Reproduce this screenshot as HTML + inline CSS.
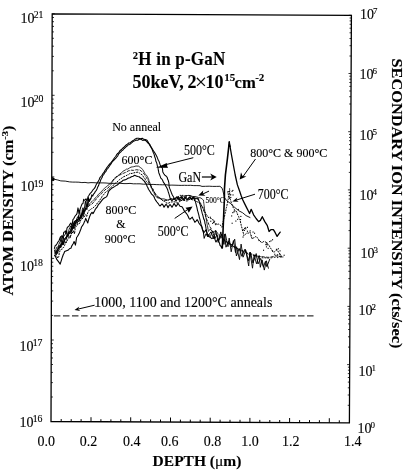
<!DOCTYPE html>
<html><head><meta charset="utf-8"><style>html,body{margin:0;padding:0;background:#fff;overflow:hidden}svg{display:block;filter:blur(0.3px)}</style></head>
<body><svg width="405" height="475" viewBox="0 0 405 475">
<style>text{stroke:#000;stroke-width:0.12px;paint-order:stroke}</style>
<rect width="405" height="475" fill="#fff"/>
<polygon points="52.2,13.8 351.4,15.3 349.4,422.8 51.0,421.5" fill="none" stroke="#000" stroke-width="1.3"/>
<line x1="52.0" y1="70.8" x2="53.8" y2="70.8" stroke="#000" stroke-width="0.8" />
<line x1="52.1" y1="56.4" x2="53.9" y2="56.4" stroke="#000" stroke-width="0.8" />
<line x1="52.1" y1="46.2" x2="53.9" y2="46.2" stroke="#000" stroke-width="0.8" />
<line x1="52.1" y1="38.3" x2="53.9" y2="38.3" stroke="#000" stroke-width="0.8" />
<line x1="52.1" y1="31.9" x2="53.9" y2="31.9" stroke="#000" stroke-width="0.8" />
<line x1="52.2" y1="26.4" x2="54.0" y2="26.4" stroke="#000" stroke-width="0.8" />
<line x1="52.2" y1="21.7" x2="54.0" y2="21.7" stroke="#000" stroke-width="0.8" />
<line x1="52.2" y1="17.5" x2="54.0" y2="17.5" stroke="#000" stroke-width="0.8" />
<line x1="52.2" y1="13.8" x2="54.8" y2="13.8" stroke="#000" stroke-width="0.8" />
<line x1="51.8" y1="152.3" x2="53.6" y2="152.3" stroke="#000" stroke-width="0.8" />
<line x1="51.8" y1="138.0" x2="53.6" y2="138.0" stroke="#000" stroke-width="0.8" />
<line x1="51.9" y1="127.8" x2="53.7" y2="127.8" stroke="#000" stroke-width="0.8" />
<line x1="51.9" y1="119.9" x2="53.7" y2="119.9" stroke="#000" stroke-width="0.8" />
<line x1="51.9" y1="113.4" x2="53.7" y2="113.4" stroke="#000" stroke-width="0.8" />
<line x1="51.9" y1="108.0" x2="53.7" y2="108.0" stroke="#000" stroke-width="0.8" />
<line x1="51.9" y1="103.2" x2="53.7" y2="103.2" stroke="#000" stroke-width="0.8" />
<line x1="51.9" y1="99.1" x2="53.7" y2="99.1" stroke="#000" stroke-width="0.8" />
<line x1="52.0" y1="95.3" x2="54.6" y2="95.3" stroke="#000" stroke-width="0.8" />
<line x1="51.6" y1="233.9" x2="53.4" y2="233.9" stroke="#000" stroke-width="0.8" />
<line x1="51.6" y1="219.5" x2="53.4" y2="219.5" stroke="#000" stroke-width="0.8" />
<line x1="51.6" y1="209.3" x2="53.4" y2="209.3" stroke="#000" stroke-width="0.8" />
<line x1="51.6" y1="201.4" x2="53.4" y2="201.4" stroke="#000" stroke-width="0.8" />
<line x1="51.7" y1="195.0" x2="53.5" y2="195.0" stroke="#000" stroke-width="0.8" />
<line x1="51.7" y1="189.5" x2="53.5" y2="189.5" stroke="#000" stroke-width="0.8" />
<line x1="51.7" y1="184.8" x2="53.5" y2="184.8" stroke="#000" stroke-width="0.8" />
<line x1="51.7" y1="180.6" x2="53.5" y2="180.6" stroke="#000" stroke-width="0.8" />
<line x1="51.7" y1="176.9" x2="54.3" y2="176.9" stroke="#000" stroke-width="0.8" />
<line x1="51.3" y1="315.4" x2="53.1" y2="315.4" stroke="#000" stroke-width="0.8" />
<line x1="51.4" y1="301.1" x2="53.2" y2="301.1" stroke="#000" stroke-width="0.8" />
<line x1="51.4" y1="290.9" x2="53.2" y2="290.9" stroke="#000" stroke-width="0.8" />
<line x1="51.4" y1="283.0" x2="53.2" y2="283.0" stroke="#000" stroke-width="0.8" />
<line x1="51.4" y1="276.5" x2="53.2" y2="276.5" stroke="#000" stroke-width="0.8" />
<line x1="51.4" y1="271.1" x2="53.2" y2="271.1" stroke="#000" stroke-width="0.8" />
<line x1="51.5" y1="266.3" x2="53.3" y2="266.3" stroke="#000" stroke-width="0.8" />
<line x1="51.5" y1="262.2" x2="53.3" y2="262.2" stroke="#000" stroke-width="0.8" />
<line x1="51.5" y1="258.4" x2="54.1" y2="258.4" stroke="#000" stroke-width="0.8" />
<line x1="51.1" y1="397.0" x2="52.9" y2="397.0" stroke="#000" stroke-width="0.8" />
<line x1="51.1" y1="382.6" x2="52.9" y2="382.6" stroke="#000" stroke-width="0.8" />
<line x1="51.1" y1="372.4" x2="52.9" y2="372.4" stroke="#000" stroke-width="0.8" />
<line x1="51.2" y1="364.5" x2="53.0" y2="364.5" stroke="#000" stroke-width="0.8" />
<line x1="51.2" y1="358.0" x2="53.0" y2="358.0" stroke="#000" stroke-width="0.8" />
<line x1="51.2" y1="352.6" x2="53.0" y2="352.6" stroke="#000" stroke-width="0.8" />
<line x1="51.2" y1="347.9" x2="53.0" y2="347.9" stroke="#000" stroke-width="0.8" />
<line x1="51.2" y1="343.7" x2="53.0" y2="343.7" stroke="#000" stroke-width="0.8" />
<line x1="51.2" y1="340.0" x2="53.8" y2="340.0" stroke="#000" stroke-width="0.8" />
<line x1="351.2" y1="56.0" x2="349.4" y2="56.0" stroke="#000" stroke-width="0.8" />
<line x1="351.3" y1="45.7" x2="349.5" y2="45.7" stroke="#000" stroke-width="0.8" />
<line x1="351.3" y1="38.5" x2="349.5" y2="38.5" stroke="#000" stroke-width="0.8" />
<line x1="351.3" y1="32.8" x2="349.5" y2="32.8" stroke="#000" stroke-width="0.8" />
<line x1="351.3" y1="28.2" x2="349.5" y2="28.2" stroke="#000" stroke-width="0.8" />
<line x1="351.4" y1="24.3" x2="349.6" y2="24.3" stroke="#000" stroke-width="0.8" />
<line x1="351.4" y1="20.9" x2="349.6" y2="20.9" stroke="#000" stroke-width="0.8" />
<line x1="351.4" y1="18.0" x2="349.6" y2="18.0" stroke="#000" stroke-width="0.8" />
<line x1="351.4" y1="15.3" x2="348.8" y2="15.3" stroke="#000" stroke-width="0.8" />
<line x1="350.9" y1="114.2" x2="349.1" y2="114.2" stroke="#000" stroke-width="0.8" />
<line x1="351.0" y1="104.0" x2="349.2" y2="104.0" stroke="#000" stroke-width="0.8" />
<line x1="351.0" y1="96.7" x2="349.2" y2="96.7" stroke="#000" stroke-width="0.8" />
<line x1="351.0" y1="91.0" x2="349.2" y2="91.0" stroke="#000" stroke-width="0.8" />
<line x1="351.1" y1="86.4" x2="349.3" y2="86.4" stroke="#000" stroke-width="0.8" />
<line x1="351.1" y1="82.5" x2="349.3" y2="82.5" stroke="#000" stroke-width="0.8" />
<line x1="351.1" y1="79.2" x2="349.3" y2="79.2" stroke="#000" stroke-width="0.8" />
<line x1="351.1" y1="76.2" x2="349.3" y2="76.2" stroke="#000" stroke-width="0.8" />
<line x1="351.1" y1="73.5" x2="348.5" y2="73.5" stroke="#000" stroke-width="0.8" />
<line x1="350.6" y1="172.4" x2="348.8" y2="172.4" stroke="#000" stroke-width="0.8" />
<line x1="350.7" y1="162.2" x2="348.9" y2="162.2" stroke="#000" stroke-width="0.8" />
<line x1="350.7" y1="154.9" x2="348.9" y2="154.9" stroke="#000" stroke-width="0.8" />
<line x1="350.7" y1="149.3" x2="348.9" y2="149.3" stroke="#000" stroke-width="0.8" />
<line x1="350.8" y1="144.6" x2="349.0" y2="144.6" stroke="#000" stroke-width="0.8" />
<line x1="350.8" y1="140.7" x2="349.0" y2="140.7" stroke="#000" stroke-width="0.8" />
<line x1="350.8" y1="137.4" x2="349.0" y2="137.4" stroke="#000" stroke-width="0.8" />
<line x1="350.8" y1="134.4" x2="349.0" y2="134.4" stroke="#000" stroke-width="0.8" />
<line x1="350.8" y1="131.7" x2="348.2" y2="131.7" stroke="#000" stroke-width="0.8" />
<line x1="350.3" y1="230.6" x2="348.5" y2="230.6" stroke="#000" stroke-width="0.8" />
<line x1="350.4" y1="220.4" x2="348.6" y2="220.4" stroke="#000" stroke-width="0.8" />
<line x1="350.4" y1="213.1" x2="348.6" y2="213.1" stroke="#000" stroke-width="0.8" />
<line x1="350.5" y1="207.5" x2="348.7" y2="207.5" stroke="#000" stroke-width="0.8" />
<line x1="350.5" y1="202.9" x2="348.7" y2="202.9" stroke="#000" stroke-width="0.8" />
<line x1="350.5" y1="199.0" x2="348.7" y2="199.0" stroke="#000" stroke-width="0.8" />
<line x1="350.5" y1="195.6" x2="348.7" y2="195.6" stroke="#000" stroke-width="0.8" />
<line x1="350.5" y1="192.6" x2="348.7" y2="192.6" stroke="#000" stroke-width="0.8" />
<line x1="350.5" y1="189.9" x2="347.9" y2="189.9" stroke="#000" stroke-width="0.8" />
<line x1="350.1" y1="288.8" x2="348.3" y2="288.8" stroke="#000" stroke-width="0.8" />
<line x1="350.1" y1="278.6" x2="348.3" y2="278.6" stroke="#000" stroke-width="0.8" />
<line x1="350.1" y1="271.3" x2="348.3" y2="271.3" stroke="#000" stroke-width="0.8" />
<line x1="350.2" y1="265.7" x2="348.4" y2="265.7" stroke="#000" stroke-width="0.8" />
<line x1="350.2" y1="261.1" x2="348.4" y2="261.1" stroke="#000" stroke-width="0.8" />
<line x1="350.2" y1="257.2" x2="348.4" y2="257.2" stroke="#000" stroke-width="0.8" />
<line x1="350.2" y1="253.8" x2="348.4" y2="253.8" stroke="#000" stroke-width="0.8" />
<line x1="350.2" y1="250.8" x2="348.4" y2="250.8" stroke="#000" stroke-width="0.8" />
<line x1="350.3" y1="248.2" x2="347.7" y2="248.2" stroke="#000" stroke-width="0.8" />
<line x1="349.8" y1="347.1" x2="348.0" y2="347.1" stroke="#000" stroke-width="0.8" />
<line x1="349.8" y1="336.8" x2="348.0" y2="336.8" stroke="#000" stroke-width="0.8" />
<line x1="349.9" y1="329.5" x2="348.1" y2="329.5" stroke="#000" stroke-width="0.8" />
<line x1="349.9" y1="323.9" x2="348.1" y2="323.9" stroke="#000" stroke-width="0.8" />
<line x1="349.9" y1="319.3" x2="348.1" y2="319.3" stroke="#000" stroke-width="0.8" />
<line x1="349.9" y1="315.4" x2="348.1" y2="315.4" stroke="#000" stroke-width="0.8" />
<line x1="349.9" y1="312.0" x2="348.1" y2="312.0" stroke="#000" stroke-width="0.8" />
<line x1="350.0" y1="309.0" x2="348.2" y2="309.0" stroke="#000" stroke-width="0.8" />
<line x1="350.0" y1="306.4" x2="347.4" y2="306.4" stroke="#000" stroke-width="0.8" />
<line x1="349.5" y1="405.3" x2="347.7" y2="405.3" stroke="#000" stroke-width="0.8" />
<line x1="349.5" y1="395.0" x2="347.7" y2="395.0" stroke="#000" stroke-width="0.8" />
<line x1="349.6" y1="387.8" x2="347.8" y2="387.8" stroke="#000" stroke-width="0.8" />
<line x1="349.6" y1="382.1" x2="347.8" y2="382.1" stroke="#000" stroke-width="0.8" />
<line x1="349.6" y1="377.5" x2="347.8" y2="377.5" stroke="#000" stroke-width="0.8" />
<line x1="349.6" y1="373.6" x2="347.8" y2="373.6" stroke="#000" stroke-width="0.8" />
<line x1="349.7" y1="370.2" x2="347.9" y2="370.2" stroke="#000" stroke-width="0.8" />
<line x1="349.7" y1="367.2" x2="347.9" y2="367.2" stroke="#000" stroke-width="0.8" />
<line x1="349.7" y1="364.6" x2="347.1" y2="364.6" stroke="#000" stroke-width="0.8" />
<line x1="61.2" y1="421.5" x2="61.2" y2="419.0" stroke="#000" stroke-width="1.0" />
<line x1="71.2" y1="421.6" x2="71.2" y2="419.1" stroke="#000" stroke-width="1.0" />
<line x1="81.1" y1="421.6" x2="81.1" y2="419.1" stroke="#000" stroke-width="1.0" />
<line x1="91.0" y1="421.7" x2="91.0" y2="417.2" stroke="#000" stroke-width="1.0" />
<line x1="100.9" y1="421.7" x2="100.9" y2="419.2" stroke="#000" stroke-width="1.0" />
<line x1="110.9" y1="421.8" x2="110.9" y2="419.3" stroke="#000" stroke-width="1.0" />
<line x1="120.8" y1="421.8" x2="120.8" y2="419.3" stroke="#000" stroke-width="1.0" />
<line x1="130.7" y1="421.8" x2="130.7" y2="417.3" stroke="#000" stroke-width="1.0" />
<line x1="140.7" y1="421.9" x2="140.7" y2="419.4" stroke="#000" stroke-width="1.0" />
<line x1="150.6" y1="421.9" x2="150.6" y2="419.4" stroke="#000" stroke-width="1.0" />
<line x1="160.5" y1="422.0" x2="160.5" y2="419.5" stroke="#000" stroke-width="1.0" />
<line x1="170.5" y1="422.0" x2="170.5" y2="417.5" stroke="#000" stroke-width="1.0" />
<line x1="180.4" y1="422.1" x2="180.4" y2="419.6" stroke="#000" stroke-width="1.0" />
<line x1="190.3" y1="422.1" x2="190.3" y2="419.6" stroke="#000" stroke-width="1.0" />
<line x1="200.2" y1="422.2" x2="200.2" y2="419.7" stroke="#000" stroke-width="1.0" />
<line x1="210.2" y1="422.2" x2="210.2" y2="417.7" stroke="#000" stroke-width="1.0" />
<line x1="220.1" y1="422.2" x2="220.1" y2="419.7" stroke="#000" stroke-width="1.0" />
<line x1="230.0" y1="422.3" x2="230.0" y2="419.8" stroke="#000" stroke-width="1.0" />
<line x1="240.0" y1="422.3" x2="240.0" y2="419.8" stroke="#000" stroke-width="1.0" />
<line x1="249.9" y1="422.4" x2="249.9" y2="417.9" stroke="#000" stroke-width="1.0" />
<line x1="259.8" y1="422.4" x2="259.8" y2="419.9" stroke="#000" stroke-width="1.0" />
<line x1="269.8" y1="422.5" x2="269.8" y2="420.0" stroke="#000" stroke-width="1.0" />
<line x1="279.7" y1="422.5" x2="279.7" y2="420.0" stroke="#000" stroke-width="1.0" />
<line x1="289.6" y1="422.5" x2="289.6" y2="418.0" stroke="#000" stroke-width="1.0" />
<line x1="299.6" y1="422.6" x2="299.6" y2="420.1" stroke="#000" stroke-width="1.0" />
<line x1="309.5" y1="422.6" x2="309.5" y2="420.1" stroke="#000" stroke-width="1.0" />
<line x1="319.4" y1="422.7" x2="319.4" y2="420.2" stroke="#000" stroke-width="1.0" />
<line x1="329.3" y1="422.7" x2="329.3" y2="418.2" stroke="#000" stroke-width="1.0" />
<line x1="339.3" y1="422.8" x2="339.3" y2="420.3" stroke="#000" stroke-width="1.0" />
<text x="20.6" y="22.7" font-size="14" font-family="Liberation Serif">10<tspan dx="-0.9" dy="-4.4" font-size="9.8">21</tspan></text>
<text x="20.6" y="106.7" font-size="14" font-family="Liberation Serif">10<tspan dx="-0.9" dy="-4.4" font-size="9.8">20</tspan></text>
<text x="20.6" y="191.1" font-size="14" font-family="Liberation Serif">10<tspan dx="-0.9" dy="-4.4" font-size="9.8">19</tspan></text>
<text x="20.1" y="270.5" font-size="14" font-family="Liberation Serif">10<tspan dx="-0.9" dy="-4.4" font-size="9.8">18</tspan></text>
<text x="19.6" y="350.7" font-size="14" font-family="Liberation Serif">10<tspan dx="-0.9" dy="-4.4" font-size="9.8">17</tspan></text>
<text x="19.6" y="426.5" font-size="14" font-family="Liberation Serif">10<tspan dx="-0.9" dy="-4.4" font-size="9.8">16</tspan></text>
<text x="360.0" y="18.9" font-size="14" font-family="Liberation Serif">10<tspan dx="-0.9" dy="-5.0" font-size="9.0">7</tspan></text>
<text x="359.5" y="79.3" font-size="14" font-family="Liberation Serif">10<tspan dx="-0.9" dy="-5.0" font-size="9.0">6</tspan></text>
<text x="359.5" y="140.3" font-size="14" font-family="Liberation Serif">10<tspan dx="-0.9" dy="-5.0" font-size="9.0">5</tspan></text>
<text x="359.5" y="199.6" font-size="14" font-family="Liberation Serif">10<tspan dx="-0.9" dy="-5.0" font-size="9.0">4</tspan></text>
<text x="360.5" y="258.0" font-size="14" font-family="Liberation Serif">10<tspan dx="-0.9" dy="-5.0" font-size="9.0">3</tspan></text>
<text x="358.5" y="314.9" font-size="14" font-family="Liberation Serif">10<tspan dx="-0.9" dy="-5.0" font-size="9.0">2</tspan></text>
<text x="358.5" y="375.6" font-size="14" font-family="Liberation Serif">10<tspan dx="-0.9" dy="-5.0" font-size="9.0">1</tspan></text>
<text x="357.5" y="432.8" font-size="14" font-family="Liberation Serif">10<tspan dx="-0.9" dy="-5.0" font-size="9.0">0</tspan></text>
<text x="37.5" y="446.2" font-size="14" font-family="Liberation Serif" >0.0</text>
<text x="79.7" y="446.2" font-size="14" font-family="Liberation Serif" >0.2</text>
<text x="122.9" y="446.2" font-size="14" font-family="Liberation Serif" >0.4</text>
<text x="161.0" y="446.2" font-size="14" font-family="Liberation Serif" >0.6</text>
<text x="203.8" y="446.2" font-size="14" font-family="Liberation Serif" >0.8</text>
<text x="241.3" y="446.2" font-size="14" font-family="Liberation Serif" >1.0</text>
<text x="282.1" y="446.2" font-size="14" font-family="Liberation Serif" >1.2</text>
<text x="343.9" y="446.2" font-size="14" font-family="Liberation Serif" >1.4</text>
<text x="152.6" y="465.9" font-size="15.5" font-family="Liberation Serif" font-weight="bold" >DEPTH (<tspan font-weight="normal">μ</tspan>m)</text>
<text transform="translate(12.6,295.5) rotate(-90)" font-size="14" font-weight="bold" font-family="Liberation Serif" textLength="170" lengthAdjust="spacingAndGlyphs">ATOM DENSITY (cm<tspan dy="-5" font-size="9">-3</tspan><tspan dy="5">)</tspan></text>
<text transform="translate(391.5,58.4) rotate(90)" font-size="15" font-weight="bold" font-family="Liberation Serif" textLength="290" lengthAdjust="spacingAndGlyphs">SECONDARY ION INTENSITY (cts/sec)</text>
<text transform="translate(132.8,65.0) scale(1,1.07)" font-size="17" font-weight="bold" font-family="Liberation Serif" textLength="92.5" lengthAdjust="spacing"><tspan font-size="10.5" dy="-5.8">2</tspan><tspan dy="5.8">H in p-GaN</tspan></text>
<text y="87.5" font-size="18" font-weight="bold" font-family="Liberation Serif"><tspan x="132.5">50keV,</tspan><tspan x="187.6">2</tspan><tspan x="194.9" dy="1" font-size="21" font-weight="normal">×</tspan><tspan x="205.6" dy="-1">10</tspan><tspan x="224.2" dy="-6.5" font-size="11">15</tspan><tspan x="234.6" dy="6.5" font-size="16.6">cm</tspan><tspan x="255.2" dy="-6.5" font-size="11">-2</tspan></text>
<text transform="translate(112.2,131.3) scale(1,1.1)" font-size="12" font-family="Liberation Serif" >No anneal</text>
<text transform="translate(121.6,164.4) scale(1,1.12)" font-size="12" font-family="Liberation Serif" >600°C</text>
<text transform="translate(183.9,154.5) scale(1,1.15)" font-size="12" font-family="Liberation Serif" >500°C</text>
<text transform="translate(178.4,181.7) scale(1,1.15)" font-size="12" font-family="Liberation Serif" >GaN</text>
<text transform="translate(250.3,157.4) scale(1,1.12)" font-size="12" font-family="Liberation Serif" >800°C &amp; 900°C</text>
<text transform="translate(257.7,198.7) scale(1,1.15)" font-size="12" font-family="Liberation Serif" >700°C</text>
<text transform="translate(105.5,213.6) scale(1,1.1)" font-size="12" font-family="Liberation Serif" >800°C</text>
<text transform="translate(116.3,228.4) scale(1,1.1)" font-size="12" font-family="Liberation Serif" >&amp;</text>
<text transform="translate(104.7,243.2) scale(1,1.1)" font-size="12" font-family="Liberation Serif" >900°C</text>
<text transform="translate(157.8,236.0) scale(1,1.15)" font-size="12" font-family="Liberation Serif" >500°C</text>
<text x="205.4" y="203.0" font-size="7.5" font-family="Liberation Serif" >500°C</text>
<text x="94.3" y="306.5" font-size="14" font-family="Liberation Serif" >1000, 1100 and 1200°C anneals</text>
<line x1="193.3" y1="157.7" x2="166" y2="164.6" stroke="#000" stroke-width="1.0" />
<path d="M157.6,167.2 L166.8,163.0 L167.4,167.4 Z" fill="#000"/>
<line x1="156.5" y1="167.3" x2="168" y2="167.3" stroke="#000" stroke-width="0.8" />
<line x1="201.9" y1="177" x2="212" y2="177" stroke="#000" stroke-width="1.2" />
<path d="M216.7,177.0 L210.2,180.4 L212.1,177.0 L210.2,173.6 Z" fill="#000"/>
<line x1="255.5" y1="159" x2="243" y2="176.5" stroke="#000" stroke-width="1.0" />
<path d="M239.7,179.5 L241.0,172.3 L242.5,175.9 L246.4,176.4 Z" fill="#000"/>
<line x1="255" y1="194.2" x2="236" y2="200.2" stroke="#000" stroke-width="1.0" />
<path d="M232.3,201.5 L237.3,197.6 L236.3,200.2 L238.7,201.8 Z" fill="#000"/>
<line x1="209" y1="191.1" x2="203" y2="193.9" stroke="#000" stroke-width="1.0" />
<path d="M198.3,195.6 L203.2,190.5 L202.8,193.7 L205.4,195.7 Z" fill="#000"/>
<line x1="174.7" y1="218.4" x2="187" y2="210" stroke="#000" stroke-width="1.0" />
<path d="M192.6,206.6 L188.8,212.7 L187.4,210.0 L185.5,207.7 Z" fill="#000"/>
<line x1="94.6" y1="305.2" x2="78" y2="309.1" stroke="#000" stroke-width="1.0" />
<path d="M74.5,310.0 L79.3,306.4 L78.0,309.2 L80.4,311.1 Z" fill="#000"/>
<line x1="53.9" y1="315.9" x2="313.8" y2="315.9" stroke="#000" stroke-width="1.0" stroke-dasharray="6.5,2.54"/>
<polyline points="52.2,177.5 54.9,179.4 57.8,180.0 60.8,180.9 65.2,181.1 69.7,181.9 72.8,182.1 75.8,182.1 78.9,182.2 81.9,182.6 85.0,182.4 88.0,182.9 91.0,182.6 94.0,182.7 97.0,182.9 100.0,182.9 103.0,182.9 106.0,183.0 109.0,183.3 112.0,183.3 115.0,183.4 118.0,183.1 121.0,183.4 124.0,183.6 127.0,183.6 130.0,183.4 133.3,183.8 136.7,183.8 140.0,183.8 143.3,184.2 146.7,184.1 150.0,184.5 153.1,184.4 156.2,184.6 159.4,184.7 162.5,184.8 165.6,184.7 168.8,185.2 171.9,185.1 175.0,185.2 178.1,185.3 181.2,185.4 184.4,185.3 187.5,185.4 190.6,185.3 193.8,185.6 196.9,185.6 200.0,185.7 202.0,186.4 205.6,186.3 209.2,186.2 212.7,186.4 216.3,186.4 219.9,186.3 221.9,187.8 222.9,190.8 223.7,194.1 224.4,197.6 226.9,200.8 230.8,203.7 234.8,207.5 238.7,210.7 242.7,212.8 246.0,215.6 250.0,217.5" fill="none" stroke="#000" stroke-width="0.9" stroke-linejoin="round" stroke-linecap="round" />
<ellipse cx="53.3" cy="179.2" rx="1.3" ry="1.8" fill="#000"/>
<polyline points="54.4,248.4 55.3,245.3 56.1,245.2 57.0,243.7 57.9,241.9 58.7,241.6 59.6,239.0 60.4,237.0 61.2,236.5 62.0,235.6 62.9,238.3 63.7,232.2 64.6,232.0 65.4,230.9 66.2,233.9 67.0,228.1 67.9,226.8 68.8,226.4 69.7,224.6 70.8,223.0 72.0,225.9 72.9,219.6 73.8,218.6 74.7,216.8 75.5,215.4 76.2,214.9 77.0,213.6 78.0,207.9 79.0,213.3 80.0,209.5 81.0,206.6 82.0,204.0 83.0,203.5 83.7,199.2 84.3,200.2 85.0,200.3 86.0,198.7 87.0,201.7 88.0,196.7 89.0,195.3 90.2,193.4 91.5,192.2 92.5,190.5 93.4,189.4 94.4,188.4 95.2,187.1 95.9,185.2 96.7,183.8 97.4,182.7 98.2,181.4 99.1,179.8 99.9,177.7 100.9,176.5 101.8,175.5 102.8,173.7 103.8,172.7 104.7,170.9 105.5,169.7 106.4,168.4 107.3,167.0 108.3,165.7 109.2,164.6 110.2,163.4 111.2,162.3 112.4,160.8 113.5,159.2 114.7,157.5 115.7,156.5 116.7,154.6 117.7,153.4 118.7,152.8 119.6,151.2 120.5,150.2 121.5,149.5 122.7,148.1 123.9,147.3 125.0,146.1 126.2,145.0 127.4,144.1 128.7,143.0 129.9,142.9 131.2,141.9 132.4,141.0 133.7,140.1 134.9,139.2 136.8,138.3 138.6,138.3 140.4,138.7 142.3,138.2 143.7,139.3 145.2,139.5 146.6,139.9 147.4,140.9 148.3,142.3 149.1,143.9 150.0,145.8 150.9,147.1 151.9,148.9 152.8,151.2 153.4,152.7 154.0,153.9 154.6,156.3 155.0,157.5 155.5,158.9 155.9,161.3 156.4,162.1 156.9,163.7 157.3,165.6 157.8,167.0 158.1,168.5 158.3,170.2 158.6,171.4 158.8,172.7 159.5,174.5 160.1,176.1 160.8,178.1 161.6,178.8 162.5,180.0 163.3,182.1 164.1,183.1 164.9,184.3 165.7,186.1 166.4,187.0 167.0,188.2 167.7,189.8 168.2,191.7 168.7,193.1 169.2,194.8 169.7,196.7 170.2,198.6 172.0,200.8 173.0,199.5 174.0,198.4 175.0,199.6 176.0,201.3 177.0,199.5 178.0,197.2 179.0,199.1 180.0,200.8 181.0,198.9 182.0,196.8 183.0,198.5 184.0,200.4 185.0,198.1 186.0,197.3 187.0,198.5 188.0,199.7 189.0,198.0 190.0,196.6 191.0,198.2 192.0,199.2 193.0,197.9 194.5,199.3 195.0,200.3 195.5,202.2 196.0,203.8 196.4,205.6 196.8,206.9 197.1,208.4 197.5,210.3 197.9,211.6 198.2,213.0 198.6,214.1 199.0,215.8 199.4,217.8 199.8,218.9 200.1,220.1 200.5,221.9 200.9,223.7 201.2,224.9 201.6,225.9 202.0,227.3 202.3,229.3 202.7,230.5 203.1,231.5 203.4,232.6 203.7,234.4 203.9,236.1 204.2,238.0" fill="none" stroke="#000" stroke-width="1.05" stroke-linejoin="round" stroke-linecap="round" />
<polyline points="55.8,252.5 56.7,251.9 57.6,249.4 58.5,248.5 59.6,247.9 60.8,244.8 61.7,244.2 62.6,242.0 63.5,244.4 64.3,241.1 65.1,239.0 65.9,238.9 66.8,236.1 67.6,235.5 68.5,234.5 69.3,233.5 70.1,232.5 70.9,232.0 71.8,230.4 72.6,228.5 73.5,227.7 74.3,224.8 75.2,223.5 76.0,222.3 76.8,219.3 77.7,220.4 78.5,216.0 79.3,219.8 80.2,217.0 81.0,218.3 81.8,213.9 82.7,212.0 83.5,211.0 84.4,211.0 85.2,208.4 86.1,208.5 86.9,209.5 87.7,204.2 88.5,197.6 89.3,201.4 90.2,199.7 91.0,198.7 91.8,194.8 92.7,196.1 93.5,194.2 94.5,193.2 95.4,191.3 96.4,190.3 97.1,188.8 97.8,186.9 98.5,185.8 99.1,183.8 99.7,182.6 100.3,181.4 100.9,179.3 101.5,178.6 102.2,177.3 102.8,175.4 103.6,174.8 104.4,173.2 105.2,172.1 106.0,171.4 106.8,169.4 107.6,168.9 108.4,167.3 109.2,166.6 110.0,165.2 111.0,163.9 112.0,162.3 113.0,161.0 114.0,160.1 114.9,159.1 115.9,158.1 116.8,157.0 117.8,155.8 118.7,153.8 119.7,152.8 120.6,152.1 121.7,150.9 122.8,150.1 123.8,148.8 124.9,148.0 126.0,146.9 127.2,146.0 128.5,144.7 129.8,144.4 131.0,143.3 132.2,142.4 133.5,141.2 134.8,140.7 136.0,140.1 137.7,140.2 139.3,139.3 141.0,139.2 142.7,140.4 144.3,140.1 146.0,140.8 147.0,141.9 148.0,143.1 149.0,143.7 150.0,144.7 150.8,146.6 151.5,147.5 152.5,149.2 153.6,151.0 154.6,152.5 155.4,153.8 156.3,155.5 157.1,157.1 157.7,158.6 158.3,160.2 159.0,161.3 159.6,163.1 160.2,165.0 161.2,166.7 162.3,167.8 162.6,169.6 162.8,172.0 163.8,173.7 164.8,175.1 166.0,176.0 167.2,177.4 167.7,179.4 168.2,180.1 168.7,182.1 168.9,183.0 169.0,184.7 169.2,186.9 169.7,188.4 170.2,189.6 170.7,190.9 171.4,192.8 172.2,194.8 173.1,196.2 174.1,198.1 175.0,199.3 176.0,198.0 177.0,197.2 178.0,198.4 179.0,199.9 180.0,197.9 181.0,196.9 182.0,198.2 183.0,199.7 184.0,198.4 185.0,197.0 186.0,198.9 187.0,199.6 188.0,199.1 189.0,197.4 190.0,198.2 191.0,199.2 192.0,198.1 193.0,197.2 194.0,197.8 195.0,198.9 197.0,198.1 198.4,198.7 198.8,200.4 199.2,201.5 199.6,203.0 200.0,204.2 200.4,205.9 200.8,207.4 201.1,209.1 201.5,210.3 201.9,212.0 202.2,213.4 202.6,214.5 203.0,215.8 203.4,217.6 203.8,219.1 204.3,219.9 204.7,221.3 205.0,223.6 205.4,224.6 205.7,226.3 206.0,228.4 206.3,229.6 206.6,231.5 206.9,233.2 207.2,234.1 207.5,236.0" fill="none" stroke="#000" stroke-width="1.05" stroke-linejoin="round" stroke-linecap="round" />
<polyline points="56.0,254.9 56.8,250.3 57.7,253.5 58.5,248.0 59.3,248.2 60.2,245.6 61.0,245.5 61.8,242.9 62.7,245.1 63.5,241.9 64.3,239.0 65.2,238.4 66.0,237.3 66.8,235.7 67.7,234.2 68.5,233.8 69.3,231.8 70.2,232.1 71.0,229.4 71.8,231.2 72.7,227.0 73.5,225.7 74.3,221.1 75.2,224.2 76.0,222.1 77.0,221.0 78.0,220.5 79.0,221.7 80.0,217.4 81.0,215.7 81.7,214.9 82.4,212.2 83.1,209.4 83.9,214.0 84.6,210.5 85.3,211.0 86.0,206.9 87.3,204.9 88.7,205.2 90.0,203.3 91.0,202.3 92.0,201.6 93.0,200.6 94.1,199.5 95.1,198.0 96.2,197.3 97.2,196.2 98.3,194.4 99.4,193.9 100.4,192.4 101.5,191.7 102.5,190.2 103.6,189.3 104.6,188.2 105.7,187.1 106.8,186.6 107.8,185.3 108.9,184.9 110.0,183.6 111.0,182.5 112.0,181.8 113.0,180.2 114.0,179.3 115.2,178.6 116.4,176.9 117.5,176.4 118.7,175.0 119.9,173.8 121.3,173.2 122.6,171.5 124.0,170.7 125.3,170.0 126.5,169.1 127.8,169.1 129.4,168.0 131.0,167.1 132.3,166.9 133.7,166.7 136.0,166.0 138.6,166.2 140.6,167.7 141.6,168.3 142.5,169.4 143.6,171.0 144.6,173.1 145.6,174.5 146.5,175.2 147.5,176.9 148.5,178.8 148.9,180.3 149.3,181.9 149.8,182.6 150.2,183.9 150.6,185.9 151.0,187.1 151.6,188.3 152.2,189.5 152.8,191.3 153.8,192.4 154.7,194.7 155.9,196.3 157.2,197.8 158.6,197.9 160.0,198.5 162.0,198.9 164.0,198.9 166.0,199.6 168.0,200.1 169.5,199.4 171.0,198.3 172.5,199.1 174.0,199.6 175.0,198.3 176.0,197.2 177.0,196.6 178.5,197.5 180.0,197.9 181.5,196.4 183.0,195.9 184.5,196.4 186.0,196.9 187.5,195.5 189.0,195.3 190.5,195.8 192.0,196.3 193.5,196.6 195.0,196.5 196.8,196.9 198.5,197.5 201.0,198.0 202.2,199.1 203.4,200.0 203.6,201.7 203.8,203.4 204.0,204.6 204.1,205.9 204.3,207.0 204.5,208.8 204.7,210.4 204.9,212.0 205.2,213.4 205.4,214.7 205.6,216.0 205.9,217.7 206.1,218.4 206.4,220.1 206.6,221.7 206.9,223.1 207.1,224.3 207.4,225.7 207.7,227.0 208.0,229.2 208.2,230.4 208.5,231.4 209.2,230.3 210.0,229.2 211.0,229.9 212.0,231.3 213.0,231.9 214.5,231.3 216.0,230.9 217.0,232.6 218.0,233.5 219.0,234.7 220.0,235.6 221.0,236.8 222.0,237.8 223.0,238.6 224.0,240.0" fill="none" stroke="#000" stroke-width="0.8" stroke-linejoin="round" stroke-linecap="round" />
<polyline points="224.0,239.4 225.3,241.2 226.7,241.6 228.0,243.4 230.0,243.7 232.0,244.8 233.3,245.4 234.7,247.6 236.0,247.6 238.0,249.2 240.0,250.1 241.7,250.1 243.3,250.7 245.0,251.3 246.7,253.4 248.3,254.1 250.0,254.2 251.7,255.0 253.3,255.5 255.0,255.5 256.7,256.9 258.3,256.2 260.0,256.5 261.7,257.3 263.3,258.2 265.0,257.6 266.7,258.4 268.3,258.0 270.0,258.0 271.5,257.8 273.0,257.5 274.5,257.4 276.0,257.0 277.8,257.6 279.5,256.3 281.2,257.3 283.0,257.0" fill="none" stroke="#000" stroke-width="1.0" stroke-linejoin="round" stroke-linecap="round" stroke-dasharray="1.0,2.2"/>
<polyline points="56.0,254.7 56.8,254.1 57.7,251.1 58.5,251.0 59.3,249.4 60.2,245.6 61.0,247.7 61.8,244.9 62.7,243.8 63.5,243.8 64.3,241.3 65.2,241.5 66.0,243.0 66.8,234.9 67.7,237.2 68.5,234.9 69.3,238.3 70.2,237.9 71.0,232.6 71.8,226.5 72.7,228.7 73.5,228.2 74.3,226.5 75.2,226.3 76.0,224.4 77.0,223.2 78.0,221.5 79.0,221.0 80.0,219.6 81.0,218.0 81.8,216.9 82.6,215.8 83.3,210.7 84.1,212.1 84.9,210.6 85.7,209.3 86.8,204.6 87.9,207.3 89.0,205.6 90.3,204.9 91.7,204.3 93.0,202.9 94.1,201.3 95.1,200.6 96.2,199.0 97.2,198.1 98.3,196.7 99.4,195.4 100.4,194.3 101.5,193.7 102.5,192.2 103.6,191.4 105.0,189.8 106.4,189.0 107.8,188.2 108.9,187.0 110.0,185.5 111.2,184.5 112.3,182.9 112.7,181.6 113.0,180.0 114.5,178.3 116.0,176.7 117.3,176.6 118.6,175.6 119.9,174.9 121.6,174.2 123.3,173.4 125.0,172.6 126.6,172.0 128.2,170.9 129.8,170.6 131.5,170.2 133.3,170.4 135.0,170.0 136.5,169.7 138.1,170.0 139.6,169.9 141.8,171.5 142.7,172.7 143.6,173.5 144.6,174.7 145.5,176.3 146.5,177.7 147.5,179.5 148.3,181.0 149.2,182.2 150.0,183.5 150.7,185.0 151.3,186.2 152.0,187.1 152.8,188.9 153.5,190.9 154.5,192.3 155.5,194.4 156.2,194.9 157.0,196.6 158.4,197.7 159.8,198.5 161.1,199.0 162.5,200.4 163.8,201.0 165.8,200.4 167.7,200.5 169.7,199.5 171.7,199.5 173.1,198.9 174.6,198.7 176.0,198.9 177.3,198.1 178.7,196.2 180.0,195.2 181.5,195.7 183.0,195.2 184.5,195.8 186.0,195.5 188.0,195.5 190.0,195.6 191.3,196.2 192.7,196.5 194.0,196.8 195.3,197.8 196.7,198.9 198.0,199.1 199.0,201.0 200.0,202.8 201.0,203.6 201.6,205.3 202.2,207.0 202.8,208.2 203.4,209.5 204.0,211.3 204.5,212.3 205.0,213.6 205.5,215.7 206.0,216.8 206.5,218.9 207.0,220.0 207.6,221.4 208.2,222.5 208.8,224.5 209.4,225.4 210.0,227.3 210.8,227.8 211.5,229.9 212.2,230.9 213.0,232.3 214.3,233.1 215.7,234.2 217.0,234.8 218.2,235.7 219.5,236.9 220.8,238.1 222.0,238.6 223.2,239.4 224.4,240.7 225.6,241.7 226.8,242.1 228.0,243.1 229.2,244.2 230.4,244.2 231.6,245.1 232.8,246.2 234.0,247.0 235.5,247.5 237.0,248.3 238.5,249.3 240.0,249.8 241.5,250.8 243.0,251.4 244.5,251.5 246.0,252.1 247.5,253.1 249.0,253.8 250.5,253.8 252.0,254.1 253.5,254.5 255.0,255.7 256.5,255.4 258.0,256.4 259.5,256.5 261.0,256.6 262.5,256.5 264.0,257.1 265.5,256.9 267.0,257.3 268.5,257.3 270.0,257.3 271.5,256.8 273.0,256.7 274.5,255.9 276.0,255.7 277.4,256.6 278.8,256.6 280.2,256.6 281.6,256.9 283.0,257.0" fill="none" stroke="#000" stroke-width="0.9" stroke-linejoin="round" stroke-linecap="round" stroke-dasharray="2.6,1.9"/>
<polyline points="57.0,256.6 57.8,258.2 58.7,256.7 59.5,252.1 60.3,250.4 61.2,249.3 62.0,249.2 62.8,247.9 63.7,247.4 64.5,245.6 65.3,243.5 66.2,242.4 67.0,241.0 67.8,239.2 68.7,237.7 69.5,236.6 70.3,236.4 71.2,234.9 72.0,231.5 72.8,233.1 73.7,230.8 74.5,233.9 75.3,227.7 76.2,226.4 77.0,225.9 78.0,223.9 79.0,224.0 80.0,222.5 81.0,219.2 82.0,218.9 82.9,218.3 83.9,216.9 84.8,216.2 85.8,214.6 86.7,216.5 87.8,212.6 88.9,210.4 90.0,210.1 91.4,208.7 92.7,208.2 94.1,206.9 95.2,205.8 96.2,205.1 97.3,203.0 98.3,202.4 99.4,200.8 100.2,199.2 101.1,198.8 101.9,196.7 102.8,195.2 103.6,194.8 104.6,193.4 105.7,191.9 106.7,191.4 107.8,190.8 108.8,189.4 110.2,188.4 111.6,186.7 113.0,185.7 114.2,184.0 115.5,183.2 116.8,182.2 118.0,181.1 119.3,179.8 120.7,178.8 122.0,178.0 123.3,176.9 124.7,176.3 126.0,175.8 127.3,175.0 128.7,174.5 130.0,173.3 132.0,173.5 134.0,172.8 136.0,172.4 138.0,172.1 139.5,173.1 141.0,174.3 142.0,174.6 143.0,176.6 144.0,177.2 144.8,178.5 145.5,179.9 146.2,181.3 147.0,182.3 149.0,183.2 149.8,185.0 150.5,185.2 151.2,187.0 152.0,188.9 152.8,189.2 153.5,191.0 154.2,191.8 155.0,193.6 156.0,194.4 157.0,195.4 158.0,196.6 159.3,197.4 160.7,198.5 162.0,200.0 163.3,200.9 164.7,201.3 166.0,202.8 168.0,203.3 170.0,202.5 171.3,202.0 172.7,201.9 174.0,201.7 175.3,202.2 176.7,202.9 178.0,202.9 179.3,201.7 180.7,201.4 182.0,200.0 184.0,200.2 186.0,201.0 187.3,200.9 188.7,200.1 190.0,199.0 192.0,199.7 194.0,200.2 195.3,201.0 196.7,201.6 198.0,202.2 199.0,202.8 200.0,203.8 201.0,205.0 202.0,206.2 202.8,207.2 203.5,209.1 204.2,210.7 205.0,211.9 205.8,213.8 206.5,214.6 207.2,215.7 208.0,217.2 209.6,217.9 211.1,218.4 212.7,219.3 213.4,220.9 214.1,222.5 214.9,223.7 215.6,224.8 217.1,224.4 218.6,224.1 219.7,224.6 220.9,225.6 222.0,227.2 222.3,226.0 222.6,224.1 222.9,222.5 223.3,221.1 223.6,220.4 223.9,218.3 224.2,216.8 224.5,216.5 224.8,215.0 225.1,213.4 225.5,211.5 225.8,210.9 226.1,208.4 226.4,207.7 226.7,206.6 227.0,205.1 227.2,204.0 227.5,202.4 227.8,200.3 228.1,199.8 228.4,197.5 228.7,196.1 229.0,195.0 229.2,193.7 229.5,191.8 229.8,190.4 228.8,191.4 227.8,192.5 228.3,194.5 228.8,195.7 229.3,197.1 229.8,197.7 230.3,199.2 230.8,200.9 231.3,202.9 231.8,204.1 232.3,205.5 232.8,206.9 233.6,208.2 234.4,209.5 235.1,210.6 235.9,210.9 236.7,212.2 237.4,213.9 238.0,215.6 238.7,216.6 239.3,218.9 240.0,219.8 240.3,221.1 240.7,223.2 241.0,224.1 241.3,226.0 241.7,226.9 242.0,228.3 242.4,230.0 242.7,231.3 243.0,231.9 243.4,233.4 243.7,235.6 245.2,234.5 246.8,233.0 248.3,233.2 249.9,231.9 250.4,233.6 250.9,235.2 251.3,235.6 251.8,237.9 252.3,239.2 253.5,237.7 254.8,237.5 256.0,236.2 257.0,237.3 258.0,238.7 259.0,240.2 260.0,240.6 261.0,242.3 262.3,242.5 263.7,241.5 265.0,241.6 266.1,242.5 267.3,243.5 268.4,245.1 269.2,245.6 270.0,247.2 270.9,248.8 271.7,249.3 272.5,251.4 273.3,252.0 274.5,251.8 275.8,251.0 277.0,249.7 277.8,250.8 278.7,252.6 279.5,253.2 280.3,254.8 281.2,255.7 282.0,257.2" fill="none" stroke="#000" stroke-width="1.0" stroke-linejoin="round" stroke-linecap="round" stroke-dasharray="1.1,1.7"/>
<polyline points="54.5,255.3 55.3,256.5 56.1,257.7 56.9,259.7 57.7,260.7 59.0,262.4 60.2,264.1 60.7,262.4 61.2,260.8 61.6,259.5 62.1,257.9 62.7,256.2 63.3,254.5 64.0,253.2 64.6,251.6 67.2,250.5 68.4,250.0 69.7,248.5 70.9,248.3 71.7,246.1 72.5,244.8 73.3,243.5 74.1,241.5 74.8,243.2 75.4,245.1 75.6,244.0 75.9,242.6 76.1,240.6 76.4,239.3 76.6,237.5 77.4,236.5 78.3,235.0 79.1,233.6 79.7,232.1 80.3,230.5 80.9,229.1 81.5,227.0 82.5,225.7 83.6,223.8 84.3,222.1 85.0,220.7 85.7,218.4 86.4,219.9 87.1,221.5 87.8,223.0 88.2,221.1 88.6,219.6 89.1,218.3 89.5,217.0 89.9,215.9 91.0,213.6 92.0,212.3 93.0,213.6 93.7,212.4 94.5,210.9 95.2,209.5 96.2,208.2 97.3,206.8 98.3,204.7 99.4,203.6 100.4,202.3 101.5,200.8 103.6,198.4 105.2,197.6 106.7,196.6 107.4,195.0 108.1,193.0 108.8,191.1 110.2,189.7 111.5,188.4 113.0,187.5 114.5,186.6 116.0,185.6 117.3,185.0 118.6,183.9 119.9,182.4 121.5,181.8 123.2,180.2 124.8,179.9 126.5,179.3 128.1,178.1 129.8,177.7 131.4,176.8 133.1,176.3 134.7,175.3 136.2,175.9 137.7,176.5 139.1,176.8 140.6,178.0 141.8,178.5 142.9,179.9 144.1,180.9 144.9,182.2 145.7,183.2 146.5,184.6 147.2,186.5 147.8,187.5 148.5,189.3 149.5,190.7 150.5,192.3 151.6,194.1 152.8,195.1 153.9,196.5 154.9,198.9 155.9,200.7 156.9,202.0 158.0,203.3 159.0,204.8 160.0,206.0 161.0,205.0 162.0,203.8 163.0,205.1 164.0,207.3 165.0,205.6 166.0,204.3 167.0,205.4 168.0,207.8 169.0,205.7 170.0,204.5 171.0,205.7 172.0,207.3 173.0,205.4 174.0,203.4 175.0,204.9 176.0,206.5 177.0,205.2 178.0,203.2 179.0,204.7 180.0,206.2 182.0,206.8 182.8,208.0 183.5,209.3 184.3,210.9 185.3,212.4 186.3,213.2 187.3,214.8 188.1,216.3 189.0,218.3 189.8,219.2 191.1,218.2 192.3,217.2 193.1,219.0 194.0,220.4 194.8,222.3 196.0,221.1 197.2,219.7 198.0,221.1 198.9,223.0 199.7,224.2 200.8,225.5 201.8,226.9 202.3,228.5 202.8,229.9 203.3,230.8 203.8,232.7 204.9,231.4 206.0,229.9 206.5,231.4 207.0,232.9 207.5,234.6 208.0,236.2 209.3,236.7 210.6,237.6 211.9,238.7 212.9,237.8 214.0,236.4 214.5,237.6 215.0,239.4 215.5,240.9 216.0,242.0 217.0,240.3 218.0,238.9 218.5,240.7 219.0,242.1 219.5,243.2 220.0,245.3 220.9,246.2 221.8,248.1 222.2,246.5 222.6,244.9 223.0,243.0" fill="none" stroke="#000" stroke-width="1.1" stroke-linejoin="round" stroke-linecap="round" />
<polyline points="54.5,250.0 55.2,254.3 56.0,249.1 56.7,247.3 57.4,246.8 58.1,247.7 58.9,244.4 59.6,242.4 60.3,241.7 61.0,236.9 61.7,239.9 62.5,242.7 63.2,237.9 63.9,235.8 64.6,235.5 65.3,234.0 66.1,232.1 66.8,231.2 67.5,236.0 68.2,234.0 69.0,229.7 69.7,227.6 70.4,227.0 71.1,225.7 71.8,229.1 72.6,228.2 73.3,222.6 74.0,226.2 74.7,221.0 75.4,220.3 76.1,221.4 76.8,218.6 77.6,216.9 78.3,216.5 79.0,214.4 79.7,210.3 80.3,217.0 81.0,214.6 81.7,215.2 82.3,209.6 83.0,207.7 83.8,210.7 84.6,207.0 85.4,201.1 86.2,207.2 87.0,202.2 87.8,205.5 88.6,201.6 89.4,200.0 90.2,198.7 91.0,198.0" fill="none" stroke="#000" stroke-width="0.9" stroke-linejoin="round" stroke-linecap="round" />
<polyline points="55.5,256.6 56.2,253.8 56.9,252.8 57.6,248.4 58.4,248.0 59.1,246.2 59.8,245.3 60.5,247.8 61.2,239.8 61.9,243.1 62.6,244.4 63.4,237.1 64.1,239.5 64.8,238.4 65.5,238.0 66.2,237.0 66.9,236.6 67.6,235.1 68.4,232.4 69.1,233.8 69.8,231.0 70.5,230.5 71.2,225.8 71.9,228.8 72.6,224.8 73.4,226.1 74.1,228.8 74.8,226.6 75.5,220.6 76.3,222.2 77.2,223.8 78.0,220.3 78.8,219.1 79.7,218.5 80.5,216.2 81.2,216.0 82.0,217.5 82.8,210.7 83.5,216.5 84.2,212.7 85.0,211.0" fill="none" stroke="#000" stroke-width="0.8" stroke-linejoin="round" stroke-linecap="round" />
<polyline points="204.2,238.0 206.0,233.8 207.7,236.6 210.9,231.9 213.7,238.8 215.7,230.4 218.2,242.4 220.8,231.9 223.0,242.0 224.5,234.2 226.0,247.2 228.6,240.9 231.6,246.8 234.7,239.2 236.4,256.0 239.2,248.4 241.9,256.3 245.1,249.0 248.5,260.8 250.4,252.4 253.0,263.0 256.2,253.6 258.0,264.0 260.7,258.4 263.4,267.1 265.4,261.4 266.9,266.7 269.7,259.3" fill="none" stroke="#000" stroke-width="0.95" stroke-linejoin="round" stroke-linecap="round" />
<polyline points="207.5,236.0 208.0,234.4 210.4,236.7 212.3,231.2 214.9,238.5 216.9,234.7 218.8,240.6 221.5,234.0 224.0,244.4 225.3,233.8 228.0,246.7 229.2,238.1 231.2,251.8 233.4,240.6 235.5,252.6 236.6,246.7 239.5,259.6 241.1,244.1 243.1,257.2 245.8,250.3 248.7,266.0 249.9,252.1 252.5,268.2 254.1,254.8 256.5,263.8 259.2,255.6 260.3,267.3 262.1,259.9 264.3,270.1 266.4,260.8 268.4,268.2" fill="none" stroke="#000" stroke-width="0.9" stroke-linejoin="round" stroke-linecap="round" />
<rect x="229.6" y="194.3" width="1.1" height="1.1" fill="#000"/>
<rect x="231.5" y="190.8" width="1.1" height="1.1" fill="#000"/>
<rect x="230.2" y="196.9" width="1.1" height="1.1" fill="#000"/>
<rect x="232.3" y="189.9" width="1.1" height="1.1" fill="#000"/>
<rect x="230.2" y="194.2" width="1.1" height="1.1" fill="#000"/>
<rect x="229.0" y="197.7" width="1.1" height="1.1" fill="#000"/>
<rect x="229.2" y="192.5" width="1.1" height="1.1" fill="#000"/>
<rect x="232.5" y="194.4" width="1.1" height="1.1" fill="#000"/>
<rect x="227.4" y="191.1" width="1.1" height="1.1" fill="#000"/>
<rect x="229.0" y="188.5" width="1.1" height="1.1" fill="#000"/>
<rect x="237.1" y="218.8" width="1.1" height="1.1" fill="#000"/>
<rect x="235.3" y="220.5" width="1.1" height="1.1" fill="#000"/>
<rect x="240.3" y="215.9" width="1.1" height="1.1" fill="#000"/>
<rect x="237.8" y="208.9" width="1.1" height="1.1" fill="#000"/>
<rect x="231.6" y="222.7" width="1.1" height="1.1" fill="#000"/>
<rect x="233.8" y="210.4" width="1.1" height="1.1" fill="#000"/>
<rect x="240.0" y="219.0" width="1.1" height="1.1" fill="#000"/>
<rect x="232.2" y="212.1" width="1.1" height="1.1" fill="#000"/>
<rect x="233.4" y="211.4" width="1.1" height="1.1" fill="#000"/>
<rect x="231.1" y="215.4" width="1.1" height="1.1" fill="#000"/>
<rect x="246.9" y="230.7" width="1.1" height="1.1" fill="#000"/>
<rect x="245.0" y="227.3" width="1.1" height="1.1" fill="#000"/>
<rect x="242.5" y="236.5" width="1.1" height="1.1" fill="#000"/>
<rect x="254.0" y="232.7" width="1.1" height="1.1" fill="#000"/>
<rect x="244.0" y="227.8" width="1.1" height="1.1" fill="#000"/>
<rect x="243.9" y="229.8" width="1.1" height="1.1" fill="#000"/>
<rect x="242.9" y="229.3" width="1.1" height="1.1" fill="#000"/>
<rect x="245.2" y="228.3" width="1.1" height="1.1" fill="#000"/>
<rect x="252.5" y="231.5" width="1.1" height="1.1" fill="#000"/>
<rect x="249.6" y="230.3" width="1.1" height="1.1" fill="#000"/>
<rect x="250.6" y="235.4" width="1.1" height="1.1" fill="#000"/>
<rect x="246.9" y="226.8" width="1.1" height="1.1" fill="#000"/>
<rect x="265.7" y="243.6" width="1.1" height="1.1" fill="#000"/>
<rect x="270.5" y="240.3" width="1.1" height="1.1" fill="#000"/>
<rect x="272.0" y="239.2" width="1.1" height="1.1" fill="#000"/>
<rect x="266.7" y="244.3" width="1.1" height="1.1" fill="#000"/>
<rect x="263.0" y="249.7" width="1.1" height="1.1" fill="#000"/>
<rect x="269.2" y="241.0" width="1.1" height="1.1" fill="#000"/>
<rect x="265.9" y="246.3" width="1.1" height="1.1" fill="#000"/>
<rect x="258.5" y="240.0" width="1.1" height="1.1" fill="#000"/>
<rect x="267.6" y="247.8" width="1.1" height="1.1" fill="#000"/>
<rect x="265.4" y="244.1" width="1.1" height="1.1" fill="#000"/>
<rect x="266.1" y="242.1" width="1.1" height="1.1" fill="#000"/>
<rect x="272.0" y="250.5" width="1.1" height="1.1" fill="#000"/>
<rect x="277.8" y="248.2" width="1.1" height="1.1" fill="#000"/>
<rect x="276.8" y="254.4" width="1.1" height="1.1" fill="#000"/>
<rect x="275.9" y="248.8" width="1.1" height="1.1" fill="#000"/>
<rect x="274.2" y="253.7" width="1.1" height="1.1" fill="#000"/>
<rect x="279.5" y="250.3" width="1.1" height="1.1" fill="#000"/>
<rect x="279.5" y="254.1" width="1.1" height="1.1" fill="#000"/>
<rect x="283.6" y="254.7" width="1.1" height="1.1" fill="#000"/>
<rect x="277.2" y="254.5" width="1.1" height="1.1" fill="#000"/>
<rect x="215.4" y="223.0" width="1.1" height="1.1" fill="#000"/>
<rect x="214.0" y="220.7" width="1.1" height="1.1" fill="#000"/>
<rect x="212.1" y="222.8" width="1.1" height="1.1" fill="#000"/>
<rect x="213.0" y="221.8" width="1.1" height="1.1" fill="#000"/>
<rect x="209.8" y="216.7" width="1.1" height="1.1" fill="#000"/>
<rect x="210.2" y="220.7" width="1.1" height="1.1" fill="#000"/>
<polyline points="222.3,248.0 223.7,215.0 223.9,209.6 224.4,199.7 224.4,189.8 225.4,175.0 227.5,158.0 229.3,142.0" fill="none" stroke="#000" stroke-width="1.6" stroke-linejoin="round" stroke-linecap="round" />
<polyline points="229.3,142.0 231.5,155.0 235.2,175.0 237.4,184.9 239.5,190.8 241.2,195.7 242.7,199.7 244.6,203.6 246.6,207.6 248.6,211.5 249.6,213.5 251.2,209.3 253.6,214.8 256.1,218.5 258.6,221.6 260.4,220.4 262.3,216.7 264.8,221.6 267.2,225.3 269.1,231.5 270.9,229.6 273.4,229.6 275.2,232.7 277.1,236.4 278.3,234.6 280.2,232.1" fill="none" stroke="#000" stroke-width="1.3" stroke-linejoin="round" stroke-linecap="round" />
<path d="M228.0,147 L229.3,141.8 L230.8,147 Z" fill="#000"/>
</svg></body></html>
